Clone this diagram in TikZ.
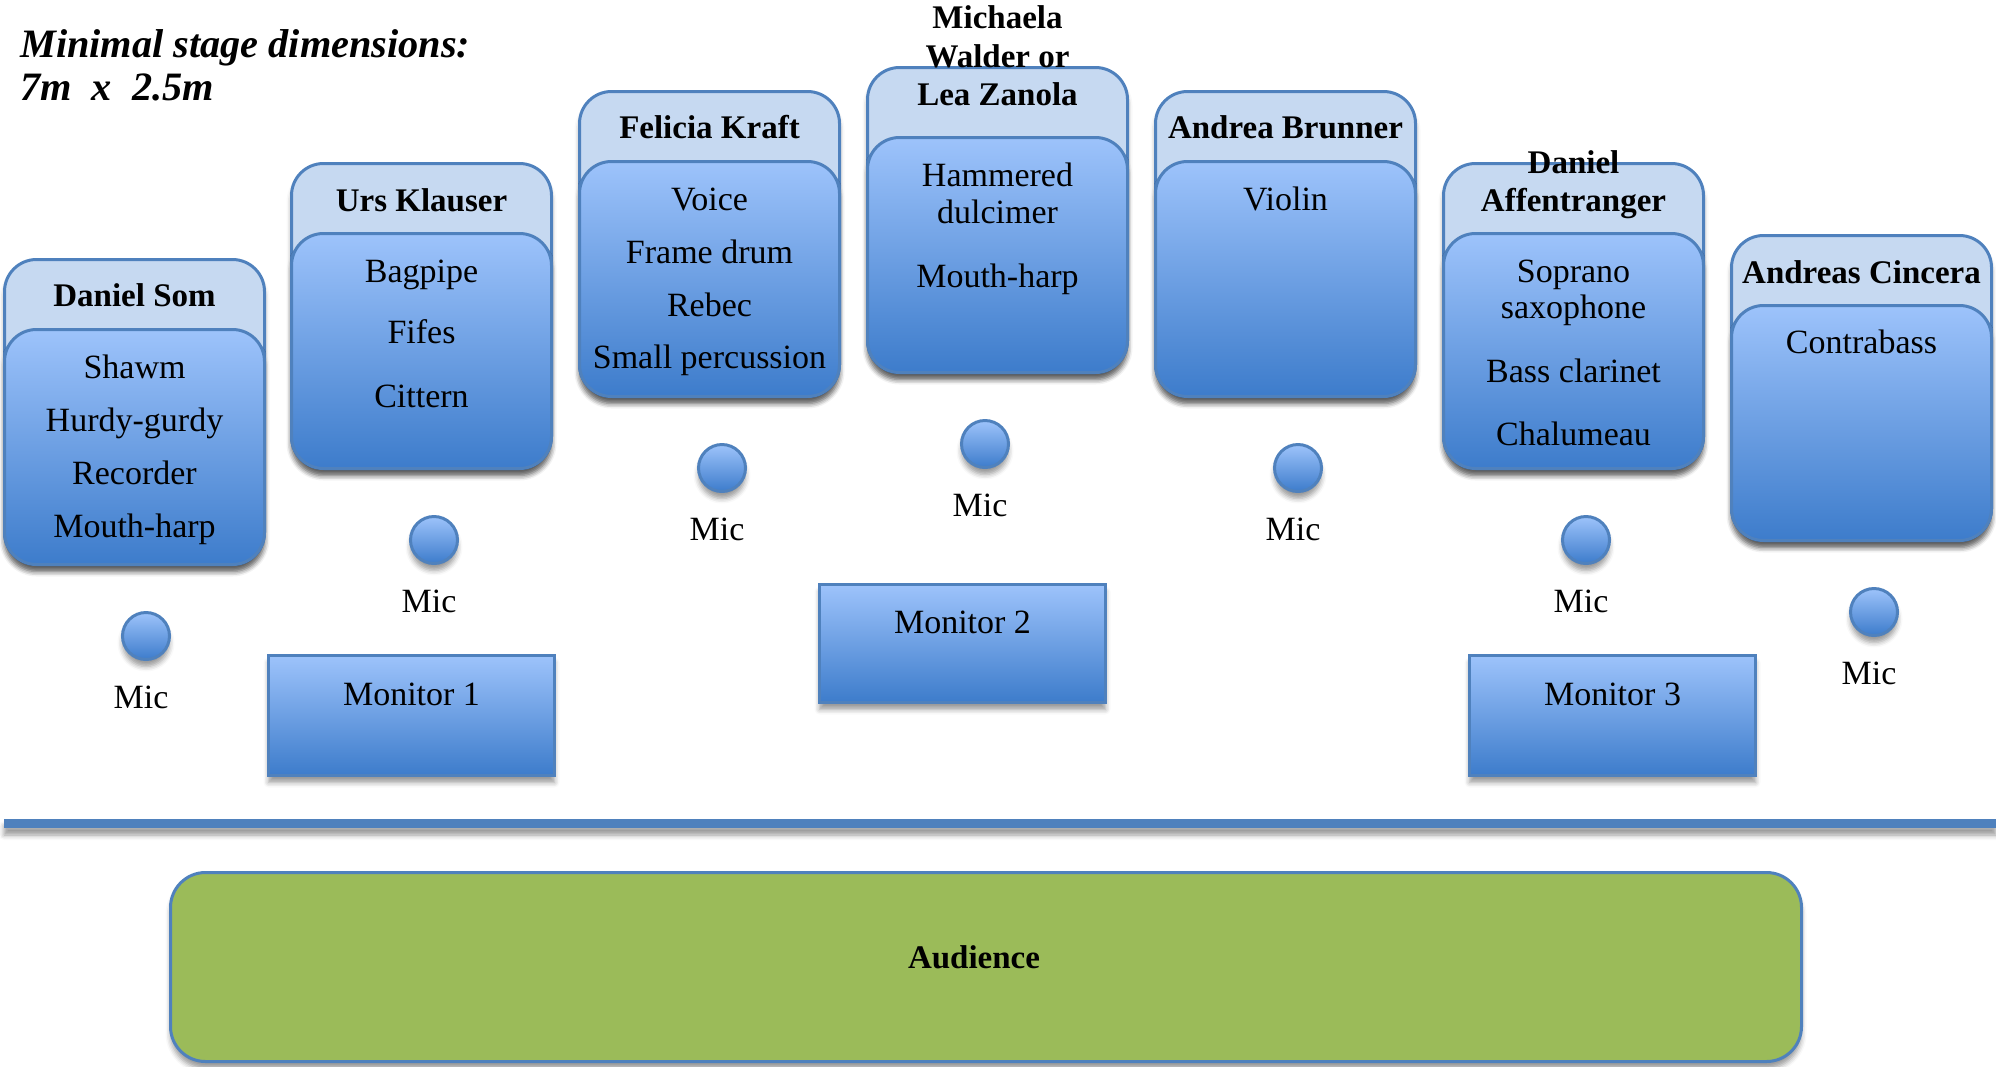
\documentclass[tikz,border=0pt]{standalone}
\usepackage{fontspec}
\setmainfont{Liberation Serif}
\usetikzlibrary{shadows.blur}
\definecolor{stageblue}{HTML}{4F81BD}
\definecolor{namefill}{HTML}{C6D9F1}
\definecolor{insttop}{HTML}{9DC3FB}
\definecolor{instbottom}{HTML}{3D7CCB}
\definecolor{audiencegreen}{HTML}{9BBB59}

\tikzset{
  softshadow/.style={blur shadow={shadow xshift=0pt, shadow yshift=-7pt, shadow blur radius=5pt, shadow opacity=40}},
  namebox/.style={draw=stageblue, line width=3pt, fill=namefill, rounded corners=32pt,
    minimum width=260pt, minimum height=305pt, anchor=north west, softshadow},
  instbox/.style={draw=stageblue, line width=3pt, top color=insttop, bottom color=instbottom,
    rounded corners=32pt, minimum width=260pt, minimum height=235pt, anchor=north west, softshadow},
  monbox/.style={draw=stageblue, line width=3pt, top color=insttop, bottom color=instbottom,
    minimum width=286pt, minimum height=120pt, anchor=north west, softshadow},
  micdot/.style={circle, draw=stageblue, line width=3pt, top color=insttop, bottom color=instbottom,
    minimum size=47pt, inner sep=0pt, softshadow},
  words/.style={anchor=base, inner sep=0pt, font=\fontsize{34}{39}\selectfont},
  who/.style={words, font=\fontsize{33}{38}\selectfont\bfseries},
}

\begin{document}
\begin{tikzpicture}[x=1pt, y=-1pt]
      \useasboundingbox (0,0) rectangle (1996,1066);

      % Stage size
      \node[anchor=base west, inner sep=0pt, font=\fontsize{40.3}{45}\selectfont\bfseries\itshape] (title1) at (20,57) {Minimal stage dimensions:};
      \node[anchor=base west, inner sep=0pt, font=\fontsize{40.3}{45}\selectfont\bfseries\itshape] (title2) at (20,100) {7m\ \ x\ \ 2.5m};

      % Musicians: name box behind, instrument box in front
      \node[namebox] (som) at (3,258) {};
      \node[instbox] (somi) at (3,328) {};
      \node[namebox] (urs) at (290,162) {};
      \node[instbox] (ursi) at (290,232) {};
      \node[namebox] (felicia) at (578,90) {};
      \node[instbox] (feliciai) at (578,160) {};
      \node[namebox] (michaela) at (866,66) {};
      \node[instbox] (michaelai) at (866,136) {};
      \node[namebox] (andrea) at (1154,90) {};
      \node[instbox] (andreai) at (1154,160) {};
      \node[namebox] (affen) at (1442,162) {};
      \node[instbox] (affeni) at (1442,232) {};
      \node[namebox] (cincera) at (1730,234) {};
      \node[instbox] (cincerai) at (1730,304) {};

      % Names
      \node[who] (somname) at (134.5,306) {Daniel Som};
      \node[who] (ursname) at (421.5,211) {Urs Klauser};
      \node[who] (felicianame) at (709.5,138) {Felicia Kraft};
      \node[who] (michaelaname1) at (997.5,28) {Michaela};
      \node[who] (michaelaname2) at (997.5,67) {Walder or};
      \node[who] (michaelaname3) at (997.5,105) {Lea Zanola};
      \node[who] (andreaname) at (1285.5,138) {Andrea Brunner};
      \node[who] (affenname1) at (1573.5,173) {Daniel};
      \node[who] (affenname2) at (1573.5,211) {Affentranger};
      \node[who] (cinceraname) at (1861.5,283) {Andreas Cincera};

      % Instruments
      \node[words] (som1) at (134.5,378) {Shawm};
      \node[words] (som2) at (134.5,431) {Hurdy-gurdy};
      \node[words] (som3) at (134.5,484) {Recorder};
      \node[words] (som4) at (134.5,537) {Mouth-harp};
      \node[words] (urs1) at (421.5,282) {Bagpipe};
      \node[words] (urs2) at (421.5,343) {Fifes};
      \node[words] (urs3) at (421.5,407) {Cittern};
      \node[words] (felicia1) at (709.5,210) {Voice};
      \node[words] (felicia2) at (709.5,263) {Frame drum};
      \node[words] (felicia3) at (709.5,316) {Rebec};
      \node[words] (felicia4) at (709.5,368) {Small percussion};
      \node[words] (michaela1) at (997.5,186) {Hammered};
      \node[words] (michaela2) at (997.5,223) {dulcimer};
      \node[words] (michaela3) at (997.5,287) {Mouth-harp};
      \node[words] (andrea1) at (1285.5,210) {Violin};
      \node[words] (affen1) at (1573.5,282) {Soprano};
      \node[words] (affen2) at (1573.5,318) {saxophone};
      \node[words] (affen3) at (1573.5,382) {Bass clarinet};
      \node[words] (affen4) at (1573.5,445) {Chalumeau};
      \node[words] (cincera1) at (1861.5,353) {Contrabass};

      % Microphones
      \node[micdot] (mic1) at (146,636) {};
      \node[micdot] (mic2) at (434,540) {};
      \node[micdot] (mic3) at (722,468) {};
      \node[micdot] (mic4) at (985,444) {};
      \node[micdot] (mic5) at (1298,468) {};
      \node[micdot] (mic6) at (1586,540) {};
      \node[micdot] (mic7) at (1874,612) {};
      \node[words] (mictext1) at ([shift={(-5pt,-72pt)}]mic1.center) {Mic};
      \node[words] (mictext2) at ([shift={(-5pt,-72pt)}]mic2.center) {Mic};
      \node[words] (mictext3) at ([shift={(-5pt,-72pt)}]mic3.center) {Mic};
      \node[words] (mictext4) at ([shift={(-5pt,-72pt)}]mic4.center) {Mic};
      \node[words] (mictext5) at ([shift={(-5pt,-72pt)}]mic5.center) {Mic};
      \node[words] (mictext6) at ([shift={(-5pt,-72pt)}]mic6.center) {Mic};
      \node[words] (mictext7) at ([shift={(-5pt,-72pt)}]mic7.center) {Mic};

      % Monitors
      \node[monbox] (mon1) at (267,654) {};
      \node[monbox, minimum height=118pt] (mon2) at (818,583) {};
      \node[monbox] (mon3) at (1468,654) {};
      \node[words] (montext1) at (411.5,705) {Monitor 1};
      \node[words] (montext2) at (962.5,633) {Monitor 2};
      \node[words] (montext3) at (1612.5,705) {Monitor 3};

      % Front edge of the stage
      \fill[stageblue, softshadow] (4,819) rectangle (1996,828);

      % Audience
      \node[draw=stageblue, line width=3pt, fill=audiencegreen, rounded corners=35pt, minimum width=1631pt,
        minimum height=189pt, anchor=north west, softshadow] (audience) at (169,871) {};
      \node[who] (audtext) at (974,968) {Audience};
    \end{tikzpicture}
\end{document}
